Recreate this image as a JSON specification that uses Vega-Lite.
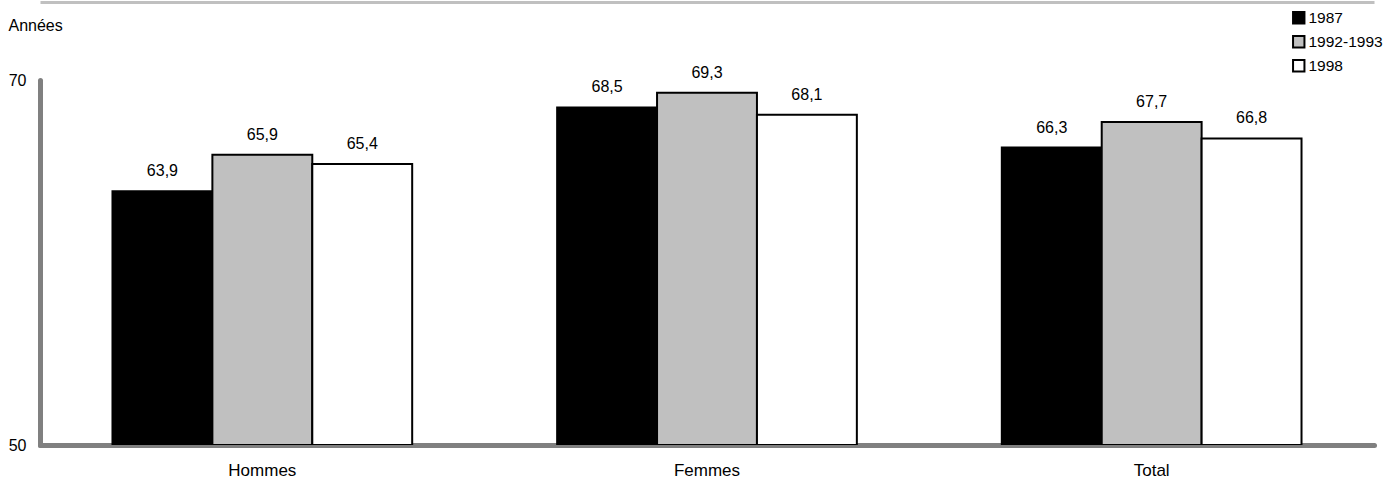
{
  "$schema": "https://vega.github.io/schema/vega-lite/v6.json",
  "width": 1334,
  "height": 365,
  "autosize": {"type": "none"},
  "padding": {"left": 40, "top": 80, "right": 11, "bottom": 37},
  "background": "white",
  "config": {
    "font": "Liberation Sans",
    "view": {"stroke": null},
    "locale": {"number": {"decimal": ",", "thousands": " ", "grouping": [3], "currency": ["", " €"]}}
  },
  "data": {
    "values": [
      {"groupe": "Hommes", "annee": "1987", "valeur": 63.9},
      {"groupe": "Hommes", "annee": "1992-1993", "valeur": 65.9},
      {"groupe": "Hommes", "annee": "1998", "valeur": 65.4},
      {"groupe": "Femmes", "annee": "1987", "valeur": 68.5},
      {"groupe": "Femmes", "annee": "1992-1993", "valeur": 69.3},
      {"groupe": "Femmes", "annee": "1998", "valeur": 68.1},
      {"groupe": "Total", "annee": "1987", "valeur": 66.3},
      {"groupe": "Total", "annee": "1992-1993", "valeur": 67.7},
      {"groupe": "Total", "annee": "1998", "valeur": 66.8}
    ]
  },
  "encoding": {
    "x": {
      "field": "groupe",
      "type": "nominal",
      "sort": ["Hommes", "Femmes", "Total"],
      "scale": {"paddingInner": 0.326, "paddingOuter": 0.163}
    },
    "xOffset": {
      "field": "annee",
      "type": "nominal",
      "sort": ["1987", "1992-1993", "1998"],
      "scale": {"paddingInner": 0, "paddingOuter": 0}
    },
    "y": {
      "field": "valeur",
      "type": "quantitative",
      "scale": {"domain": [50, 70], "zero": false, "clamp": true}
    }
  },
  "layer": [
    {
      "mark": {"type": "bar", "stroke": "black", "strokeWidth": 2, "clip": true},
      "encoding": {
        "x": {
          "field": "groupe",
          "type": "nominal",
          "sort": ["Hommes", "Femmes", "Total"],
          "axis": {
            "title": null,
            "orient": "bottom",
            "labelAngle": 0,
            "labelFontSize": 17,
            "labelColor": "black",
            "labelPadding": 17,
            "ticks": false,
            "domainColor": "#808080",
            "domainWidth": 5,
            "domainCap": "round"
          }
        },
        "y": {
          "field": "valeur",
          "type": "quantitative",
          "axis": {
            "title": "Années",
            "titleAngle": 0,
            "titleAlign": "left",
            "titleBaseline": "middle",
            "titleX": -32,
            "titleY": -55,
            "titleFontSize": 16,
            "titleFontWeight": "normal",
            "titleColor": "black",
            "values": [50, 70],
            "grid": false,
            "ticks": false,
            "labelFontSize": 16,
            "labelColor": "black",
            "labelPadding": 14,
            "domainColor": "#808080",
            "domainWidth": 5,
            "domainCap": "round"
          }
        },
        "fill": {
          "field": "annee",
          "type": "nominal",
          "sort": ["1987", "1992-1993", "1998"],
          "scale": {"range": ["#000000", "#c0c0c0", "#ffffff"]},
          "legend": {
            "title": null,
            "orient": "none",
            "legendX": 1251,
            "legendY": -70,
            "symbolType": "square",
            "symbolSize": 130,
            "symbolStrokeColor": "black",
            "symbolStrokeWidth": 2,
            "labelFontSize": 15.5,
            "labelColor": "black",
            "labelOffset": 2,
            "rowPadding": 4
          }
        }
      }
    },
    {
      "mark": {"type": "text", "baseline": "bottom", "dy": -12, "fontSize": 16, "color": "black"},
      "encoding": {
        "x": {
          "field": "groupe",
          "type": "nominal",
          "sort": ["Hommes", "Femmes", "Total"],
          "axis": {
            "orient": "top",
            "offset": 78,
            "title": null,
            "labels": false,
            "ticks": false,
            "domainColor": "#c0c0c0",
            "domainWidth": 3
          }
        },
        "text": {"field": "valeur", "type": "quantitative", "format": ".1f"}
      }
    }
  ]
}
